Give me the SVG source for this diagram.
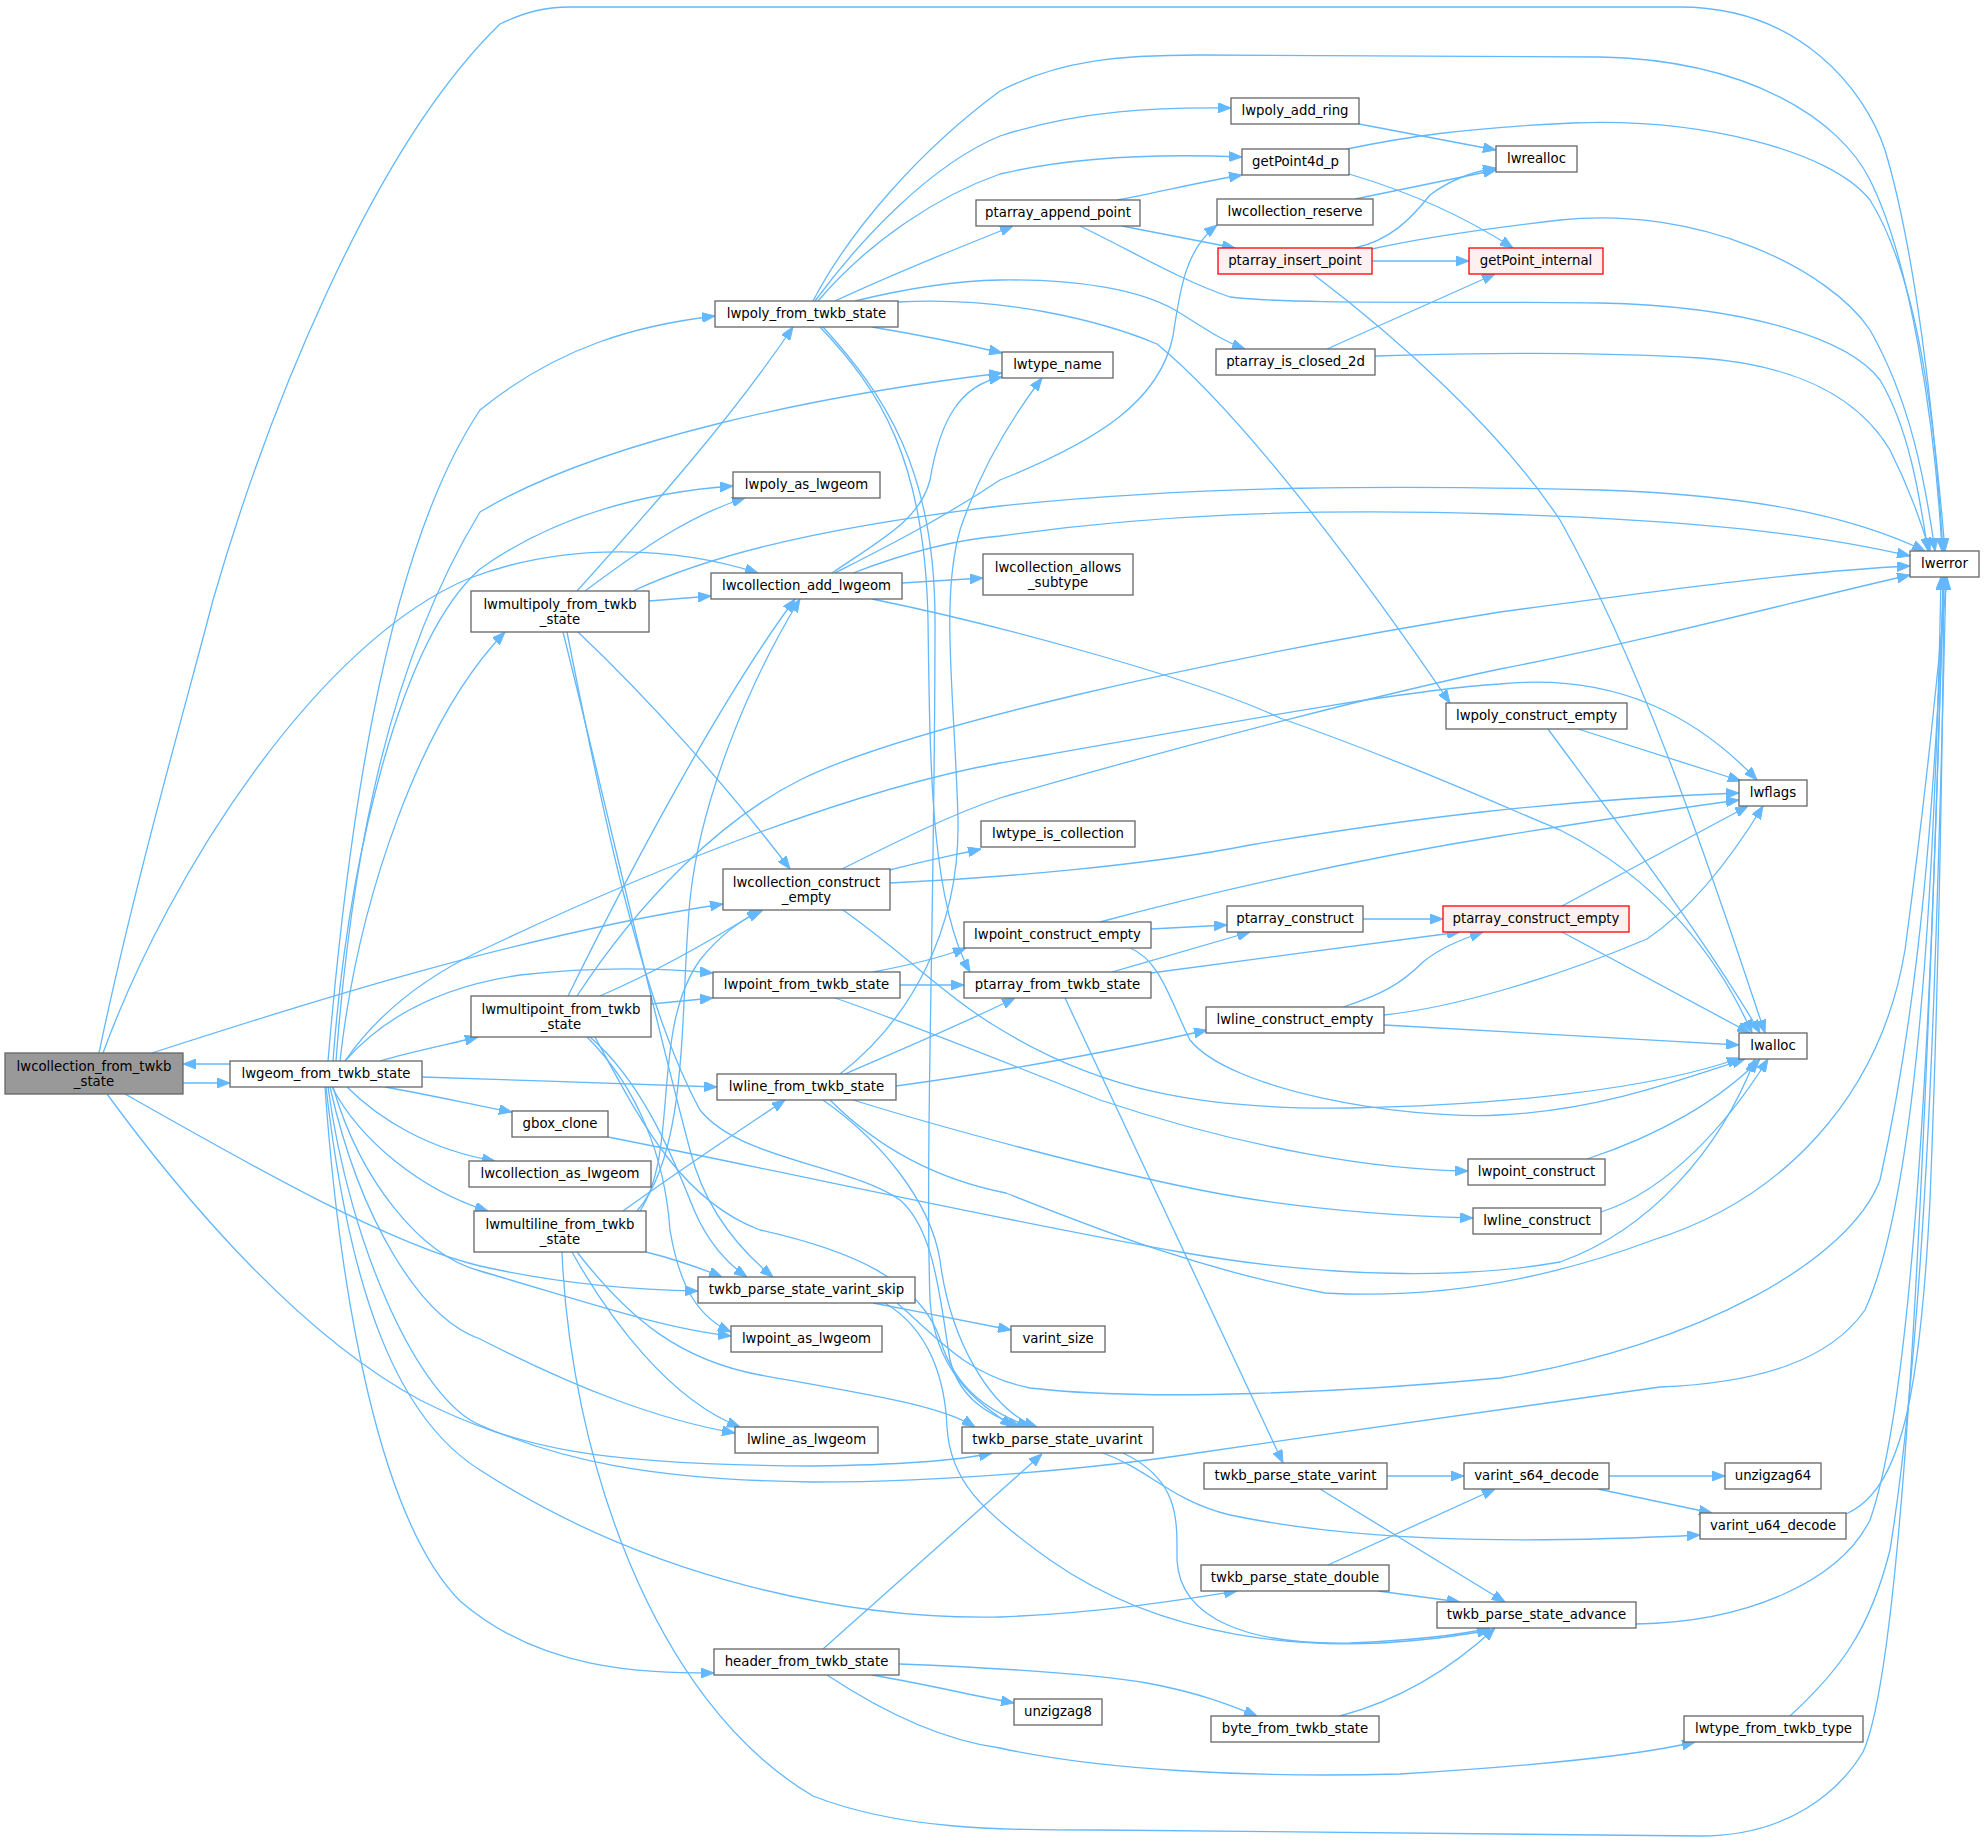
<svg xmlns="http://www.w3.org/2000/svg" width="1984" height="1843" viewBox="0 0 1984 1843">
<style>
.node rect{fill:#ffffff;stroke:#666666;stroke-width:1.3}
.node.main rect{fill:#999999;stroke:#666666}
.node.red rect{fill:#fff0f0;stroke:#ff0000}
.node text{font-family:"DejaVu Sans","Liberation Sans",sans-serif;font-size:13.3px;text-anchor:middle;fill:#000000}
.edges path{fill:none;stroke:#63b8ff;stroke-width:1.3;marker-end:url(#arr)}
</style>
<defs>
<marker id="arr" viewBox="0 0 13 10" refX="13" refY="5" markerWidth="13" markerHeight="10" markerUnits="userSpaceOnUse" orient="auto">
<path d="M0,0 L13,5 L0,10 z" fill="#63b8ff" stroke="#63b8ff" stroke-width="1"/>
</marker>
</defs>
<rect x="0" y="0" width="1984" height="1843" fill="#ffffff"/>
<g id="edges" class="edges">
<path d="M99,1053 C135,880 190,690 213,600 C265,420 370,150 500,24 C525,12 545,7 570,7 L1680,7 C1800,7 1865,90 1885,150 C1915,250 1935,420 1943,551"/>
<path d="M103,1053 C170,870 320,640 470,578 C570,540 680,548 758,573"/>
<path d="M152,1053 C300,1005 520,935 723,904"/>
<path d="M183,1083 L230,1083"/>
<path d="M125,1094 C250,1165 390,1245 480,1266 C560,1284 640,1290 698,1291"/>
<path d="M107,1094 C170,1180 290,1330 420,1400 C520,1450 600,1465 813,1466 C900,1465 960,1460 992,1453"/>
<path d="M230,1064 L183,1064"/>
<path d="M328,1061 C345,860 380,560 480,410 C560,345 640,325 715,316"/>
<path d="M333,1061 C348,860 400,640 480,569 C560,512 650,492 733,486"/>
<path d="M336,1061 C352,850 390,660 480,512 C600,440 820,395 1002,373"/>
<path d="M340,1061 C358,900 420,720 505,632"/>
<path d="M380,1061 C410,1052 450,1044 478,1037"/>
<path d="M422,1077 C520,1080 620,1084 717,1087"/>
<path d="M385,1087 C430,1095 470,1104 512,1112"/>
<path d="M347,1087 C380,1120 430,1150 495,1161"/>
<path d="M332,1087 C360,1140 420,1190 488,1211"/>
<path d="M345,1061 C390,1010 450,985 520,975 C600,966 660,968 713,973"/>
<path d="M333,1087 C360,1180 420,1255 480,1271 C580,1300 660,1328 731,1336"/>
<path d="M330,1087 C360,1220 420,1318 480,1339 C580,1390 660,1420 735,1433"/>
<path d="M328,1087 C350,1250 420,1400 480,1425 C560,1460 650,1480 813,1482 C950,1482 1100,1468 1197,1453 C1350,1430 1500,1411 1660,1387 C1760,1383 1830,1360 1865,1310 C1915,1200 1935,900 1941,577"/>
<path d="M326,1087 C350,1300 400,1420 480,1470 C650,1580 850,1620 1000,1617 C1100,1613 1180,1600 1237,1591"/>
<path d="M325,1087 C340,1300 380,1520 460,1601 C540,1670 640,1673 714,1673"/>
<path d="M345,1061 C380,1010 430,975 480,951 C650,870 850,790 1000,763 C1200,728 1400,690 1500,684 C1620,672 1700,720 1757,780"/>
<path d="M813,301 C850,230 920,150 1000,91 C1060,60 1120,55 1200,55 L1600,57 C1750,60 1840,120 1870,180 C1910,260 1935,420 1942,551"/>
<path d="M815,301 C860,240 930,165 1000,136 C1080,110 1160,107 1231,108"/>
<path d="M818,301 C870,240 940,195 1000,174 C1080,155 1170,154 1242,157"/>
<path d="M835,301 C880,280 940,255 1013,226"/>
<path d="M855,301 C900,290 950,281 1000,280 C1080,279 1140,290 1175,310 C1200,325 1220,340 1245,349"/>
<path d="M898,302 C1000,296 1100,320 1157,344 C1250,420 1380,600 1450,703"/>
<path d="M872,327 C920,335 960,343 1002,353"/>
<path d="M820,327 C880,390 925,460 928,620 C930,760 930,900 970,972"/>
<path d="M823,327 C885,395 935,470 935,620 C935,900 925,1150 930,1300 C935,1380 990,1410 1013,1427"/>
<path d="M577,591 C650,510 730,420 793,327"/>
<path d="M585,591 C640,550 690,515 745,498"/>
<path d="M649,601 L711,596"/>
<path d="M633,591 C700,560 800,530 1000,506 C1200,485 1400,485 1600,490 C1750,495 1850,515 1925,551"/>
<path d="M578,632 C650,700 730,790 790,869"/>
<path d="M563,632 C600,780 650,1000 690,1150 C705,1210 740,1250 773,1277"/>
<path d="M567,632 C600,800 640,1000 700,1110 C740,1160 850,1165 900,1200 C935,1230 940,1300 950,1360 C960,1400 990,1415 1020,1427"/>
<path d="M568,996 C630,870 720,700 795,599"/>
<path d="M577,996 C640,900 720,820 800,780 C900,730 1200,660 1500,612 C1700,585 1820,570 1910,566"/>
<path d="M600,996 C660,970 720,935 760,910"/>
<path d="M651,1004 L713,998"/>
<path d="M590,1037 C640,1080 670,1150 690,1200 C705,1240 725,1262 747,1277"/>
<path d="M587,1037 C640,1090 665,1160 670,1230 C680,1290 700,1318 731,1332"/>
<path d="M595,1037 C640,1120 680,1200 760,1230 C850,1250 920,1280 940,1339 C955,1390 990,1412 1030,1427"/>
<path d="M623,1211 C680,1170 740,1130 785,1100"/>
<path d="M637,1211 C690,1150 680,1000 690,900 C700,800 750,680 800,599"/>
<path d="M640,1211 C680,1150 650,1030 700,960 C720,935 740,920 763,910"/>
<path d="M646,1252 C670,1258 700,1268 722,1277"/>
<path d="M572,1252 C610,1320 670,1400 740,1427"/>
<path d="M577,1252 C630,1320 680,1360 760,1375 C870,1395 940,1405 975,1427"/>
<path d="M562,1252 C570,1450 650,1700 813,1796 C900,1830 1000,1830 1100,1830 L1700,1836 C1790,1836 1840,1790 1863,1752 C1910,1650 1930,1000 1944,577"/>
<path d="M873,972 C910,965 940,958 966,948"/>
<path d="M900,985 L964,985"/>
<path d="M835,998 C900,1020 1000,1060 1100,1100 C1250,1150 1380,1170 1468,1171"/>
<path d="M840,1074 C910,1020 960,930 958,820 C955,700 940,600 960,530 C980,470 1010,420 1042,378"/>
<path d="M845,1074 C900,1050 960,1025 1015,998"/>
<path d="M896,1086 C1000,1072 1120,1050 1207,1030"/>
<path d="M823,1100 C880,1140 930,1200 940,1260 C950,1340 990,1410 1037,1427"/>
<path d="M830,1100 C880,1150 940,1180 1006,1193 C1100,1230 1200,1270 1325,1293 C1450,1300 1560,1275 1653,1240 C1780,1200 1880,1100 1905,950 C1925,800 1935,700 1947,577"/>
<path d="M853,1100 C950,1130 1100,1170 1200,1190 C1300,1210 1400,1216 1473,1218"/>
<path d="M902,583 L983,578"/>
<path d="M832,573 C880,540 920,520 930,480 C940,420 960,385 1002,377"/>
<path d="M835,573 C880,550 940,520 1000,480 C1100,440 1160,400 1173,336 C1180,290 1185,250 1217,225"/>
<path d="M853,573 C900,555 950,540 1000,536 C1150,515 1300,508 1500,514 C1700,520 1820,535 1910,556"/>
<path d="M872,599 C1000,625 1200,680 1280,718 C1400,760 1500,805 1560,830 C1660,880 1720,960 1752,1033"/>
<path d="M890,870 C920,862 950,856 981,849"/>
<path d="M890,883 C1000,878 1150,865 1250,845 C1400,820 1550,800 1739,793"/>
<path d="M842,869 C900,840 950,815 1000,798 C1200,740 1400,690 1500,669 C1650,640 1800,600 1910,575"/>
<path d="M843,910 C900,950 950,1000 1000,1029 C1100,1090 1200,1110 1350,1108 C1500,1105 1650,1090 1740,1058"/>
<path d="M1151,929 L1227,925"/>
<path d="M1100,922 C1200,895 1350,860 1500,836 C1600,820 1680,808 1739,800"/>
<path d="M1130,948 C1160,960 1170,1000 1190,1040 C1230,1090 1400,1120 1500,1115 C1600,1110 1680,1080 1745,1059"/>
<path d="M1112,972 C1160,958 1210,944 1250,932"/>
<path d="M1151,973 C1250,960 1380,942 1460,932"/>
<path d="M1065,998 L1283,1463"/>
<path d="M1363,919 L1443,919"/>
<path d="M1343,1007 C1380,995 1400,985 1423,962 C1440,948 1460,940 1483,932"/>
<path d="M1384,1015 C1450,1008 1550,980 1647,939 C1690,910 1730,860 1763,806"/>
<path d="M1384,1025 C1500,1032 1620,1038 1739,1045"/>
<path d="M1578,729 L1741,781"/>
<path d="M1548,729 C1600,800 1700,930 1760,1033"/>
<path d="M1562,906 L1748,806"/>
<path d="M1562,932 L1750,1033"/>
<path d="M1587,1159 C1660,1135 1720,1100 1760,1059"/>
<path d="M1601,1212 C1670,1190 1730,1120 1768,1059"/>
<path d="M1313,274 C1400,340 1500,430 1560,520 C1650,680 1720,900 1765,1033"/>
<path d="M608,1137 C800,1175 1000,1220 1180,1252 C1350,1282 1480,1276 1560,1262 C1650,1230 1720,1150 1755,1059"/>
<path d="M1359,124 L1496,150"/>
<path d="M1349,174 C1420,195 1470,220 1513,248"/>
<path d="M1347,149 C1400,138 1460,128 1573,123 C1700,118 1830,150 1870,200 C1920,280 1935,430 1945,551"/>
<path d="M1117,200 C1160,192 1200,182 1242,175"/>
<path d="M1122,226 L1235,248"/>
<path d="M1080,226 C1130,250 1180,280 1230,297 C1300,305 1450,301 1600,303 C1750,306 1850,340 1880,380 C1910,430 1920,500 1928,551"/>
<path d="M1355,199 L1496,170"/>
<path d="M1372,261 L1469,261"/>
<path d="M1355,248 C1390,240 1410,220 1430,195 C1450,180 1470,172 1496,168"/>
<path d="M1372,249 C1420,238 1500,227 1560,220 C1700,205 1830,270 1870,330 C1910,400 1925,480 1935,551"/>
<path d="M1327,349 L1495,274"/>
<path d="M1375,356 C1500,352 1600,352 1700,358 C1800,365 1860,400 1890,450 C1910,490 1920,520 1930,551"/>
<path d="M1103,1453 C1150,1470 1170,1500 1230,1515 C1350,1540 1500,1545 1700,1535"/>
<path d="M1123,1453 C1180,1480 1177,1520 1177,1560 C1180,1620 1250,1645 1350,1643 C1420,1640 1460,1635 1490,1628"/>
<path d="M873,1303 C920,1312 960,1320 1011,1330"/>
<path d="M885,1303 C930,1330 945,1380 947,1427 C950,1480 980,1510 1050,1560 C1150,1630 1300,1665 1490,1630"/>
<path d="M897,1303 C935,1335 965,1375 1030,1388 C1150,1402 1350,1392 1500,1378 C1700,1345 1850,1260 1880,1180 C1920,1000 1935,800 1944,577"/>
<path d="M823,1649 L1042,1454"/>
<path d="M899,1664 C1000,1668 1100,1675 1147,1683 C1200,1693 1230,1705 1257,1716"/>
<path d="M872,1675 C930,1685 970,1695 1014,1703"/>
<path d="M827,1675 C880,1710 940,1740 1000,1748 C1100,1770 1250,1778 1400,1774 C1550,1765 1640,1755 1695,1742"/>
<path d="M1340,1716 C1400,1700 1450,1670 1495,1628"/>
<path d="M1387,1476 L1464,1476"/>
<path d="M1320,1489 L1505,1602"/>
<path d="M1328,1565 L1495,1489"/>
<path d="M1378,1591 L1460,1602"/>
<path d="M1609,1476 L1725,1476"/>
<path d="M1598,1489 L1712,1513"/>
<path d="M1846,1514 C1900,1490 1920,1400 1930,1200 C1938,1000 1942,800 1944,577"/>
<path d="M1636,1624 C1750,1622 1840,1580 1870,1520 C1920,1380 1935,900 1943,577"/>
<path d="M1790,1716 C1840,1670 1870,1630 1890,1550 C1930,1300 1938,900 1946,577"/>
</g>
<g id="n-lwcollection_from_twkb_state" class="node main"><rect x="5" y="1053" width="178" height="41"/><text x="94" y="1071">lwcollection_from_twkb</text><text x="94" y="1086">_state</text></g>
<g id="n-lwgeom_from_twkb_state" class="node"><rect x="230" y="1061" width="192" height="26"/><text x="326" y="1078">lwgeom_from_twkb_state</text></g>
<g id="n-lwpoly_from_twkb_state" class="node"><rect x="715" y="301" width="183" height="26"/><text x="806.5" y="318">lwpoly_from_twkb_state</text></g>
<g id="n-lwpoly_as_lwgeom" class="node"><rect x="733" y="472" width="147" height="26"/><text x="806.5" y="489">lwpoly_as_lwgeom</text></g>
<g id="n-lwmultipoly_from_twkb_state" class="node"><rect x="471" y="591" width="178" height="41"/><text x="560" y="609">lwmultipoly_from_twkb</text><text x="560" y="624">_state</text></g>
<g id="n-lwcollection_add_lwgeom" class="node"><rect x="711" y="573" width="191" height="26"/><text x="806.5" y="590">lwcollection_add_lwgeom</text></g>
<g id="n-lwcollection_construct_empty" class="node"><rect x="723" y="869" width="167" height="41"/><text x="806.5" y="887">lwcollection_construct</text><text x="806.5" y="902">_empty</text></g>
<g id="n-lwpoint_from_twkb_state" class="node"><rect x="713" y="972" width="187" height="26"/><text x="806.5" y="989">lwpoint_from_twkb_state</text></g>
<g id="n-lwmultipoint_from_twkb_state" class="node"><rect x="471" y="996" width="180" height="41"/><text x="561" y="1014">lwmultipoint_from_twkb</text><text x="561" y="1029">_state</text></g>
<g id="n-lwline_from_twkb_state" class="node"><rect x="717" y="1074" width="179" height="26"/><text x="806.5" y="1091">lwline_from_twkb_state</text></g>
<g id="n-gbox_clone" class="node"><rect x="512" y="1111" width="96" height="26"/><text x="560" y="1128">gbox_clone</text></g>
<g id="n-lwcollection_as_lwgeom" class="node"><rect x="469" y="1161" width="182" height="26"/><text x="560" y="1178">lwcollection_as_lwgeom</text></g>
<g id="n-lwmultiline_from_twkb_state" class="node"><rect x="474" y="1211" width="172" height="41"/><text x="560" y="1229">lwmultiline_from_twkb</text><text x="560" y="1244">_state</text></g>
<g id="n-twkb_parse_state_varint_skip" class="node"><rect x="698" y="1277" width="217" height="26"/><text x="806.5" y="1294">twkb_parse_state_varint_skip</text></g>
<g id="n-lwpoint_as_lwgeom" class="node"><rect x="731" y="1326" width="151" height="26"/><text x="806.5" y="1343">lwpoint_as_lwgeom</text></g>
<g id="n-lwline_as_lwgeom" class="node"><rect x="735" y="1427" width="143" height="26"/><text x="806.5" y="1444">lwline_as_lwgeom</text></g>
<g id="n-header_from_twkb_state" class="node"><rect x="714" y="1649" width="185" height="26"/><text x="806.5" y="1666">header_from_twkb_state</text></g>
<g id="n-lwpoly_add_ring" class="node"><rect x="1231" y="98" width="128" height="26"/><text x="1295" y="115">lwpoly_add_ring</text></g>
<g id="n-getPoint4d_p" class="node"><rect x="1242" y="149" width="107" height="26"/><text x="1295.5" y="166">getPoint4d_p</text></g>
<g id="n-ptarray_append_point" class="node"><rect x="976" y="200" width="164" height="26"/><text x="1058" y="217">ptarray_append_point</text></g>
<g id="n-lwcollection_reserve" class="node"><rect x="1217" y="199" width="156" height="26"/><text x="1295" y="216">lwcollection_reserve</text></g>
<g id="n-ptarray_insert_point" class="node red"><rect x="1218" y="248" width="154" height="26"/><text x="1295" y="265">ptarray_insert_point</text></g>
<g id="n-lwtype_name" class="node"><rect x="1002" y="352" width="111" height="26"/><text x="1057.5" y="369">lwtype_name</text></g>
<g id="n-ptarray_is_closed_2d" class="node"><rect x="1216" y="349" width="159" height="26"/><text x="1295.5" y="366">ptarray_is_closed_2d</text></g>
<g id="n-lwcollection_allows_subtype" class="node"><rect x="983" y="554" width="150" height="41"/><text x="1058" y="572">lwcollection_allows</text><text x="1058" y="587">_subtype</text></g>
<g id="n-lwtype_is_collection" class="node"><rect x="981" y="821" width="154" height="26"/><text x="1058" y="838">lwtype_is_collection</text></g>
<g id="n-lwpoint_construct_empty" class="node"><rect x="964" y="922" width="187" height="26"/><text x="1057.5" y="939">lwpoint_construct_empty</text></g>
<g id="n-ptarray_from_twkb_state" class="node"><rect x="964" y="972" width="187" height="26"/><text x="1057.5" y="989">ptarray_from_twkb_state</text></g>
<g id="n-ptarray_construct" class="node"><rect x="1227" y="906" width="136" height="26"/><text x="1295" y="923">ptarray_construct</text></g>
<g id="n-lwline_construct_empty" class="node"><rect x="1206" y="1007" width="178" height="26"/><text x="1295" y="1024">lwline_construct_empty</text></g>
<g id="n-twkb_parse_state_uvarint" class="node"><rect x="962" y="1427" width="191" height="26"/><text x="1057.5" y="1444">twkb_parse_state_uvarint</text></g>
<g id="n-varint_size" class="node"><rect x="1011" y="1326" width="94" height="26"/><text x="1058" y="1343">varint_size</text></g>
<g id="n-twkb_parse_state_varint" class="node"><rect x="1204" y="1463" width="183" height="26"/><text x="1295.5" y="1480">twkb_parse_state_varint</text></g>
<g id="n-twkb_parse_state_double" class="node"><rect x="1201" y="1565" width="188" height="26"/><text x="1295" y="1582">twkb_parse_state_double</text></g>
<g id="n-unzigzag8" class="node"><rect x="1014" y="1699" width="88" height="26"/><text x="1058" y="1716">unzigzag8</text></g>
<g id="n-byte_from_twkb_state" class="node"><rect x="1211" y="1716" width="168" height="26"/><text x="1295" y="1733">byte_from_twkb_state</text></g>
<g id="n-lwrealloc" class="node"><rect x="1496" y="146" width="81" height="26"/><text x="1536.5" y="163">lwrealloc</text></g>
<g id="n-getPoint_internal" class="node red"><rect x="1469" y="248" width="134" height="26"/><text x="1536" y="265">getPoint_internal</text></g>
<g id="n-lwerror" class="node"><rect x="1910" y="551" width="69" height="26"/><text x="1944.5" y="568">lwerror</text></g>
<g id="n-lwpoly_construct_empty" class="node"><rect x="1446" y="703" width="181" height="26"/><text x="1536.5" y="720">lwpoly_construct_empty</text></g>
<g id="n-lwflags" class="node"><rect x="1739" y="780" width="68" height="26"/><text x="1773" y="797">lwflags</text></g>
<g id="n-ptarray_construct_empty" class="node red"><rect x="1443" y="906" width="186" height="26"/><text x="1536" y="923">ptarray_construct_empty</text></g>
<g id="n-lwalloc" class="node"><rect x="1739" y="1033" width="68" height="26"/><text x="1773" y="1050">lwalloc</text></g>
<g id="n-lwpoint_construct" class="node"><rect x="1468" y="1159" width="137" height="26"/><text x="1536.5" y="1176">lwpoint_construct</text></g>
<g id="n-lwline_construct" class="node"><rect x="1473" y="1208" width="128" height="26"/><text x="1537" y="1225">lwline_construct</text></g>
<g id="n-varint_s64_decode" class="node"><rect x="1464" y="1463" width="145" height="26"/><text x="1536.5" y="1480">varint_s64_decode</text></g>
<g id="n-unzigzag64" class="node"><rect x="1725" y="1463" width="96" height="26"/><text x="1773" y="1480">unzigzag64</text></g>
<g id="n-varint_u64_decode" class="node"><rect x="1700" y="1513" width="146" height="26"/><text x="1773" y="1530">varint_u64_decode</text></g>
<g id="n-twkb_parse_state_advance" class="node"><rect x="1437" y="1602" width="199" height="26"/><text x="1536.5" y="1619">twkb_parse_state_advance</text></g>
<g id="n-lwtype_from_twkb_type" class="node"><rect x="1684" y="1716" width="179" height="26"/><text x="1773.5" y="1733">lwtype_from_twkb_type</text></g>
</svg>
